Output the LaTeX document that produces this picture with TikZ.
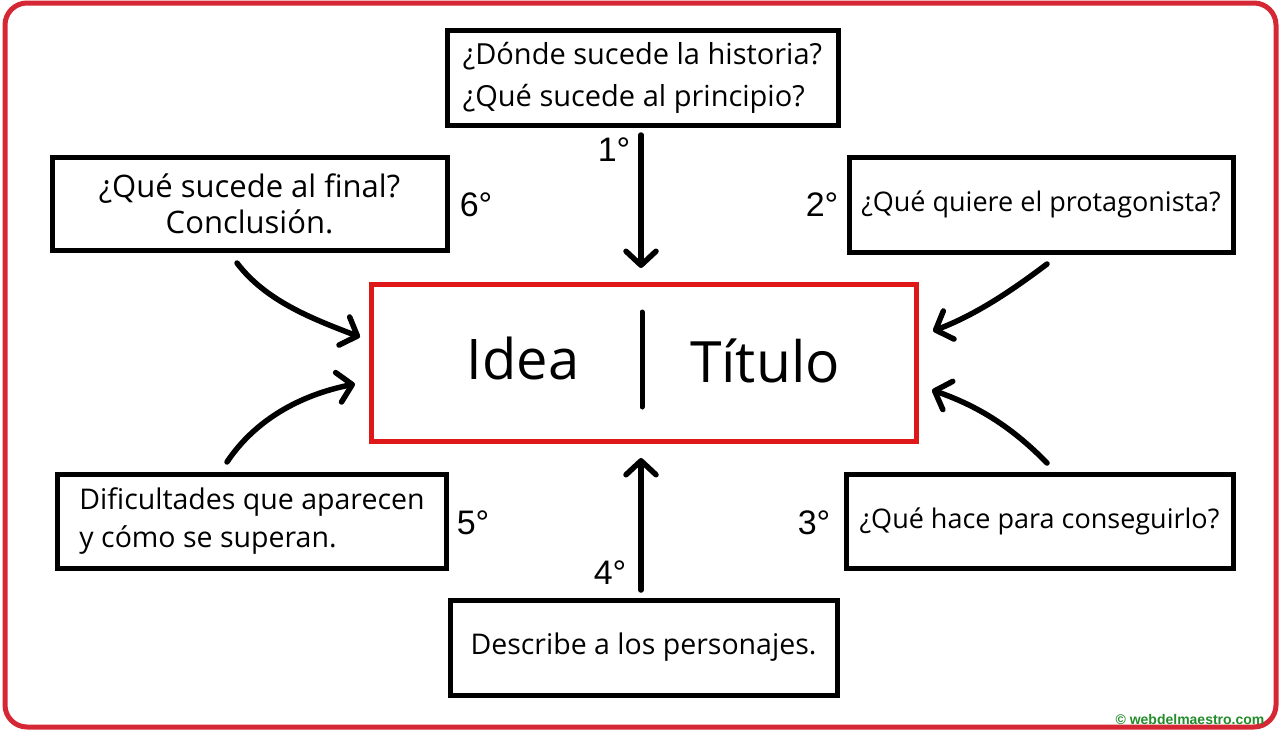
\documentclass[tikz,border=0pt]{standalone}
\usepackage{fontspec}
\setmainfont{Open Sans}
\newfontfamily\numfont{Liberation Sans}
\usetikzlibrary{arrows.meta}
\definecolor{framered}{RGB}{214,40,52}
\definecolor{boxred}{RGB}{222,24,24}
\definecolor{wmgreen}{RGB}{34,140,40}
\tikzset{
  qbox/.style={draw=black, line width=5pt, fill=white, inner sep=0pt,
    font=\fontsize{27}{40}\selectfont},
  numlbl/.style={font=\numfont\fontsize{34}{36}\selectfont, inner sep=0pt},
  bigarrow/.style={line width=5.5pt, line cap=round,
    -{Straight Barb[length=14pt,width=30pt,line cap=round,line join=round]}},
}
\begin{document}
\begin{tikzpicture}[x=1pt,y=-1pt]
\useasboundingbox (0,0) rectangle (1280,731);
\fill[white] (0,0) rectangle (1280,731);
% outer frame
\draw[framered, line width=5pt, rounded corners=22pt] (5,3) rectangle (1276,727);

% boxes
\node[qbox, minimum width=391pt, minimum height=95pt, align=left,
  font=\fontsize{29}{42}\selectfont] (top) at (642.5,77.5)
  {¿Dónde sucede la historia?\\¿Qué sucede al principio?};
\node[qbox, minimum width=395pt, minimum height=93pt, align=center,
  font=\fontsize{31}{36}\selectfont] (six) at (249.5,203.5)
  {¿Qué sucede al final?\\Conclusión.};
\node[qbox, minimum width=384pt, minimum height=95pt,
  font=\fontsize{27}{36}\selectfont] (two) at (1041,204.5)
  {¿Qué quiere el protagonista?};
\node[qbox, minimum width=389pt, minimum height=94pt, align=left,
  font=\fontsize{28.5}{38}\selectfont] (five) at (252,521)
  {Dificultades que aparecen\\y cómo se superan.};
\node[qbox, minimum width=387pt, minimum height=94pt,
  font=\fontsize{27}{36}\selectfont] (three) at (1039.5,521)
  {¿Qué hace para conseguirlo?};
\node[qbox, minimum width=387pt, minimum height=95pt,
  font=\fontsize{28.5}{36}\selectfont] (four) at (643.5,647.5)
  {Describe a los personajes.};

% central box
\node[draw=boxred, line width=5pt, fill=white, minimum width=545pt, minimum height=157pt] (center) at (643.5,362.5) {};
\node[font=\fontsize{56}{60}\selectfont, inner sep=0pt] (idea) at (523,358) {Idea};
\node[font=\fontsize{57}{60}\selectfont, inner sep=0pt] (titulo) at (765,361) {Título};
\coordinate (divt) at (642,312);
\coordinate (divb) at (642,407);
\draw[line width=5pt, line cap=round] (divt) -- (divb);

% number labels
\node[numlbl] (n1) at (614,150) {1°};
\node[numlbl] (n2) at (822,205) {2°};
\node[numlbl] (n3) at (814,523) {3°};
\node[numlbl] (n4) at (610,573) {4°};
\node[numlbl] (n5) at (473,523) {5°};
\node[numlbl] (n6) at (476,205) {6°};

% arrow endpoints
\coordinate (a1s) at (641,135);
\coordinate (a1e) at (641,268);
\coordinate (a4s) at (641,590);
\coordinate (a4e) at (641,458);
\coordinate (a6s) at (237,263);
\coordinate (a6e) at (360,337);
\coordinate (a5s) at (227,462);
\coordinate (a5e) at (355,384);
\coordinate (a2s) at (1047,264);
\coordinate (a2e) at (933,331);
\coordinate (a3s) at (1047,463);
\coordinate (a3e) at (932,390);

\draw[bigarrow] (a1s) -- (a1e);
\draw[bigarrow] (a4s) -- (a4e);
\draw[bigarrow] (a6s) .. controls (265,300) and (310,318) .. (a6e);
\draw[bigarrow] (a5s) .. controls (255,420) and (300,395) .. (a5e);
\draw[bigarrow] (a2s) .. controls (1010,292) and (975,315) .. (a2e);
\draw[bigarrow] (a3s) .. controls (1010,425) and (975,405) .. (a3e);

% watermark
\node[font=\numfont\bfseries\fontsize{14}{16}\selectfont, text=wmgreen, inner sep=0pt] (wm) at (1190,719) {© webdelmaestro.com};
\end{tikzpicture}
\end{document}
